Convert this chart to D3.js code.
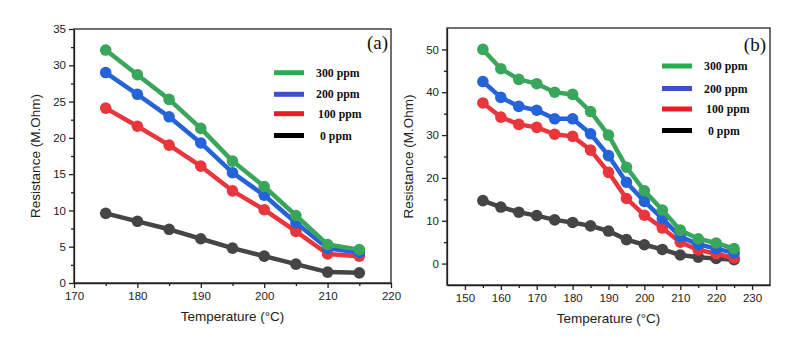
<!DOCTYPE html>
<html>
<head>
<meta charset="utf-8">
<script src="https://cdn.jsdelivr.net/npm/d3@7"></script>
<style>
  body { margin: 0; background: #fff; }
  svg { display: block; }
  .tick text { font-family: "Liberation Sans", Arial, sans-serif; font-size: 11.5px; fill: #222; }
  .axisTitle { font-family: "Liberation Sans", Arial, sans-serif; font-size: 13.5px; fill: #222; }
  .legText { font-family: "Liberation Serif", "Times New Roman", serif; font-size: 11.8px; font-weight: bold; fill: #111; }
  .panelTag { font-family: "Liberation Serif", "Times New Roman", serif; font-size: 19px; fill: #111; }
</style>
</head>
<body>
<div id="chart"></div>
<script>
// Panel (a) data
var tempA = [175, 180, 185, 190, 195, 200, 205, 210, 215];
var a300 = [32.1, 28.7, 25.3, 21.3, 16.8, 13.3, 9.3, 5.3, 4.6];
var a200 = [29.0, 26.0, 22.9, 19.3, 15.2, 12.1, 8.3, 4.8, 4.2];
var a100 = [24.1, 21.6, 19.0, 16.1, 12.7, 10.1, 7.1, 4.0, 3.7];
var a0   = [9.6, 8.5, 7.4, 6.1, 4.8, 3.7, 2.6, 1.5, 1.4];

// Panel (b) data
var tempB = [155, 160, 165, 170, 175, 180, 185, 190, 195, 200, 205, 210, 215, 220, 225];
var b300 = [50.0, 45.5, 43.0, 42.0, 40.0, 39.5, 35.5, 30.0, 22.5, 17.0, 12.5, 7.8, 5.8, 4.8, 3.5];
var b200 = [42.5, 38.8, 36.7, 35.8, 33.8, 33.8, 30.3, 25.2, 19.0, 14.5, 10.5, 6.3, 4.5, 3.5, 2.5];
var b100 = [37.5, 34.2, 32.5, 31.8, 30.2, 29.7, 26.5, 21.3, 15.2, 11.3, 8.3, 5.0, 3.2, 2.3, 1.3];
var b0   = [14.7, 13.2, 12.0, 11.2, 10.2, 9.6, 8.8, 7.6, 5.6, 4.4, 3.3, 2.0, 1.5, 1.2, 0.9];

var legendLabels = ["300 ppm", "200 ppm", "100 ppm", "0 ppm"];
var lineColors = ["#3aa65c", "#2563d9", "#e8363c", "#454545"];
var legendColors = ["#25b04f", "#3f4fcc", "#ec1c26", "#000000"];

var svgWidth = 801, svgHeight = 339;
var svg = d3.select("#chart").append("svg")
    .attr("width", svgWidth)
    .attr("height", svgHeight);

function drawPanel(opt) {
    var g = svg.append("g");
    var x = d3.scaleLinear().domain(opt.xDomain).range([opt.left, opt.right]);
    var y = d3.scaleLinear().domain(opt.yDomain).range([opt.bottom, opt.top]);

    // minor ticks
    g.append("g")
        .attr("transform", `translate(0, ${opt.bottom})`)
        .call(d3.axisBottom(x).tickValues(opt.xMinor).tickSize(3).tickFormat(""))
        .call(a => a.select(".domain").remove());
    g.append("g")
        .attr("transform", `translate(${opt.left}, 0)`)
        .call(d3.axisLeft(y).tickValues(opt.yMinor).tickSize(3).tickFormat(""))
        .call(a => a.select(".domain").remove());

    // major axes
    g.append("g")
        .attr("transform", `translate(0, ${opt.bottom})`)
        .call(d3.axisBottom(x).tickValues(opt.xTicks).tickSize(5).tickPadding(4).tickSizeOuter(0));
    g.append("g")
        .attr("transform", `translate(${opt.left}, 0)`)
        .call(d3.axisLeft(y).tickValues(opt.yTicks).tickSize(5).tickPadding(3).tickSizeOuter(0));

    g.selectAll(".domain, .tick line").attr("stroke", "#222").attr("stroke-width", 1.3);

    // frame
    g.append("rect")
        .attr("x", opt.left).attr("y", opt.top)
        .attr("width", opt.right - opt.left)
        .attr("height", opt.bottom - opt.top)
        .attr("fill", "none")
        .attr("stroke", "#222")
        .attr("stroke-width", 1.3);

    // series: 0, 100, 200, 300 so green sits on top
    var order = [3, 2, 1, 0];
    var line = d3.line().x(d => x(d[0])).y(d => y(d[1]));
    order.forEach(function(i) {
        var pts = opt.temps.map((t, k) => [t, opt.series[i][k]]);
        g.append("path")
            .datum(pts)
            .attr("fill", "none")
            .attr("stroke", lineColors[i])
            .attr("stroke-width", 4.5)
            .attr("stroke-linejoin", "round")
            .attr("d", line);
        g.append("g").selectAll("circle")
            .data(pts)
            .enter()
            .append("circle")
            .attr("cx", d => x(d[0]))
            .attr("cy", d => y(d[1]))
            .attr("r", 5.8)
            .attr("fill", lineColors[i]);
    });

    // legend
    legendLabels.forEach(function(lab, i) {
        var ly = opt.legY[i];
        g.append("line")
            .attr("x1", opt.legX).attr("x2", opt.legX + 30)
            .attr("y1", ly).attr("y2", ly)
            .attr("stroke", legendColors[i])
            .attr("stroke-width", 5);
        g.append("text")
            .attr("class", "legText")
            .attr("x", opt.legX + 42 + (i >= 2 ? 2 : 0) + (i == 3 ? 2 : 0))
            .attr("y", ly + 4)
            .text(lab);
    });

    g.append("text")
        .attr("class", "panelTag")
        .attr("x", opt.tagX)
        .attr("y", opt.tagY)
        .attr("text-anchor", "end")
        .text(opt.tag);

    g.append("text")
        .attr("class", "axisTitle")
        .attr("text-anchor", "middle")
        .attr("x", (opt.left + opt.right) / 2)
        .attr("y", opt.bottom + 38)
        .text("Temperature (°C)");

    g.append("text")
        .attr("class", "axisTitle")
        .attr("text-anchor", "middle")
        .attr("transform", `translate(${opt.yLabelX}, ${(opt.top + opt.bottom) / 2}) rotate(-90)`)
        .text("Resistance (M.Ohm)");
}

drawPanel({
    left: 74, right: 391, top: 29, bottom: 283,
    xDomain: [170, 220], yDomain: [0, 35],
    xTicks: d3.range(170, 221, 10), xMinor: d3.range(175, 220, 10),
    yTicks: d3.range(0, 36, 5), yMinor: d3.range(2.5, 35, 5),
    temps: tempA, series: [a300, a200, a100, a0],
    legX: 274, legY: [72.7, 94.3, 113.7, 135.5],
    tag: "(a)", tagX: 388, tagY: 49,
    yLabelX: 40
});

drawPanel({
    left: 447, right: 770, top: 28, bottom: 285,
    xDomain: [145, 235], yDomain: [-5, 55],
    xTicks: d3.range(150, 231, 10), xMinor: d3.range(155, 230, 10),
    yTicks: d3.range(0, 51, 10), yMinor: d3.range(5, 55, 10),
    temps: tempB, series: [b300, b200, b100, b0],
    legX: 662, legY: [66, 88.5, 109, 130.5],
    tag: "(b)", tagX: 766, tagY: 51,
    yLabelX: 413
});
</script>
</body>
</html>
